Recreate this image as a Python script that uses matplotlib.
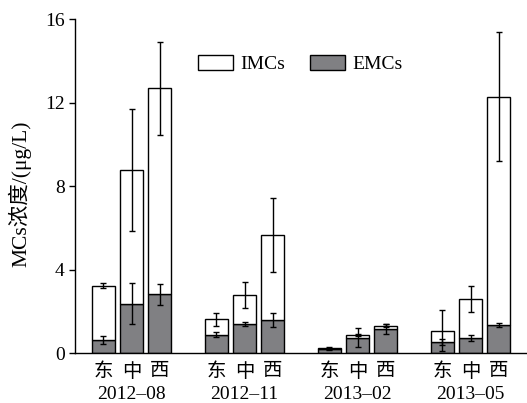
import matplotlib
matplotlib.use('Agg')
import matplotlib.pyplot as plt
import numpy as np

# data
months = ['2012–08', '2012–11', '2013–02', '2013–05']
sites = ['东', '中', '西']
total = [3.23, 8.76, 12.68, 1.63, 2.78, 5.67, 0.25, 0.86, 1.33, 1.08, 2.60, 12.28]
total_err = [0.12, 2.93, 2.23, 0.30, 0.63, 1.76, 0.03, 0.05, 0.06, 0.97, 0.62, 3.10]
emc = [0.62, 2.38, 2.82, 0.88, 1.40, 1.59, 0.19, 0.75, 1.18, 0.53, 0.75, 1.35]
emc_err = [0.19, 1.00, 0.52, 0.12, 0.10, 0.35, 0.03, 0.45, 0.24, 0.15, 0.14, 0.10]

plt.rcParams['font.family'] = ['Liberation Serif', 'Noto Sans CJK SC']
plt.rcParams['font.size'] = 14

fig = plt.figure(figsize=(5.27, 4.03), dpi=100)
ax = fig.add_axes([75 / 527, 1 - 353.3 / 403, 452 / 527, 334.3 / 403])

x = []
for g in range(len(months)):
    for s in range(len(sites)):
        x.append(g * 4 + s)
x = np.array(x)
imc = np.array(total) - np.array(emc)

gray = '#808083'
ax.bar(x, emc, width=0.82, color=gray, edgecolor='black', lw=1, label='EMCs', zorder=2)
ax.bar(x, imc, width=0.82, bottom=emc, color='white', edgecolor='black', lw=1,
       label='IMCs', zorder=2)
ax.errorbar(x, total, yerr=total_err, fmt='none', ecolor='black', elinewidth=1,
            capsize=2.5, capthick=1, zorder=3)
ax.errorbar(x, emc, yerr=emc_err, fmt='none', ecolor='black', elinewidth=1,
            capsize=2.5, capthick=1, zorder=3)

ax.set_xlim(-1, 15)
ax.set_ylim(0, 16)
ax.set_yticks([0, 4, 8, 12, 16])
ax.set_xticks(x, labels=sites * len(months))
ax.tick_params(axis='x', length=0, pad=7, labelsize=14)
ax.tick_params(axis='y', direction='out', length=4, width=1, labelsize=14)
for sp in ['top', 'right']:
    ax.spines[sp].set_visible(False)
for sp in ['left', 'bottom']:
    ax.spines[sp].set_linewidth(1)

for g, m in enumerate(months):
    ax.text(g * 4 + 1, -0.098, m, transform=ax.get_xaxis_transform(),
            ha='center', va='top', fontsize=14)

ax.set_ylabel('MCs浓度/(μg/L)', fontsize=15.5)
ax.yaxis.set_label_coords(-0.097, 0.478)

handles, labels = ax.get_legend_handles_labels()
ax.legend(handles[::-1], labels[::-1], ncol=2, frameon=False, loc='center',
          bbox_to_anchor=(0.498, 0.866), handlelength=1.8, handleheight=0.82,
          columnspacing=1.25, handletextpad=0.4, fontsize=14)

fig.savefig('out.png', dpi=100)
